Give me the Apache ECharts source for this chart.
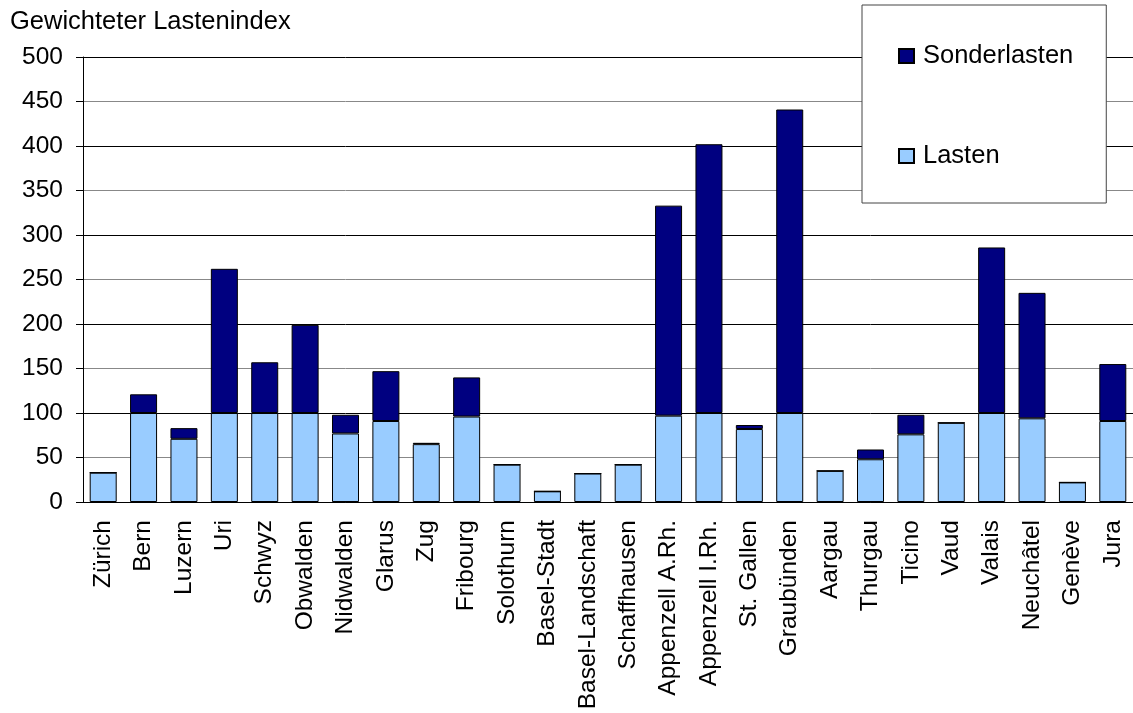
<!DOCTYPE html>
<html><head><meta charset="utf-8">
<script src="https://cdn.jsdelivr.net/npm/echarts@6/dist/echarts.min.js"></script>
<style>html,body{margin:0;padding:0;background:#fff}#c{width:1133px;height:713px}</style>
</head><body><div id="c"></div>
<script>
const categories = ['Zürich','Bern','Luzern','Uri','Schwyz','Obwalden','Nidwalden','Glarus','Zug','Fribourg','Solothurn','Basel-Stadt','Basel-Landschaft','Schaffhausen','Appenzell A.Rh.','Appenzell I.Rh.','St. Gallen','Graubünden','Aargau','Thurgau','Ticino','Vaud','Valais','Neuchâtel','Genève','Jura'];
const lasten = [33,100,71,100,100,100,77,91,65,96,42,12,32,42,97,100,82,100,35,48,76,89,100,94,22,91];
const sonderlasten = [0,21,12,162,57,99,21,56,1.5,44,0,0,0,0,236,302,4.5,341,0,11,22,0,186,141,0,64];
const yTicks = [0,50,100,150,200,250,300,350,400,450,500];

const chart = echarts.init(document.getElementById('c'));
const font = 'Liberation Sans, Arial, sans-serif';
chart.setOption({
  animation: false,
  textStyle: {fontFamily: font},
  title: {text: 'Gewichteter Lastenindex', left: 10, top: 9, padding: 0,
    textStyle: {fontFamily: font, fontSize: 25.5, fontWeight: 'normal', color: '#000'}},
  grid: {left: 83, top: 57, width: 1054, height: 445},
  legend: {
    orient: 'vertical', left: 862, top: 5,
    data: ['Sonderlasten','Lasten'],
    itemWidth: 15, itemHeight: 14, itemGap: 74,
    padding: [38, 33, 34, 36],
    borderColor: '#444', borderWidth: 1, backgroundColor: '#fff',
    textStyle: {fontFamily: font, fontSize: 25.5, color: '#000', padding: [0,0,0,4]},
    icon: 'rect'
  },
  xAxis: {
    type: 'category', data: categories,
    axisLine: {lineStyle: {color: '#000', width: 1}},
    axisTick: {show: false},
    axisLabel: {rotate: 90, fontSize: 24.5, color: '#000', margin: 18, interval: 0, fontFamily: font}
  },
  yAxis: {
    type: 'value', min: 0, max: 500, interval: 50,
    axisLine: {show: true, lineStyle: {color: '#000'}},
    axisTick: {show: true, length: 7, lineStyle: {color: '#000'}},
    axisLabel: {fontSize: 24.5, color: '#000', margin: 20, fontFamily: font,
      formatter: v => yTicks.includes(v) ? String(v) : ''},
    splitLine: {show: true, lineStyle: {color: ['#000','#888'], width: 1}}
  },
  series: [
    {name: 'Lasten', type: 'bar', stack: 's', data: lasten, barWidth: 27,
      itemStyle: {color: '#99CCFF', borderColor: '#000', borderWidth: 1}},
    {name: 'Sonderlasten', type: 'bar', stack: 's', data: sonderlasten, barWidth: 27,
      itemStyle: {color: '#000080', borderColor: '#000', borderWidth: 1}}
  ]
});
</script></body></html>
